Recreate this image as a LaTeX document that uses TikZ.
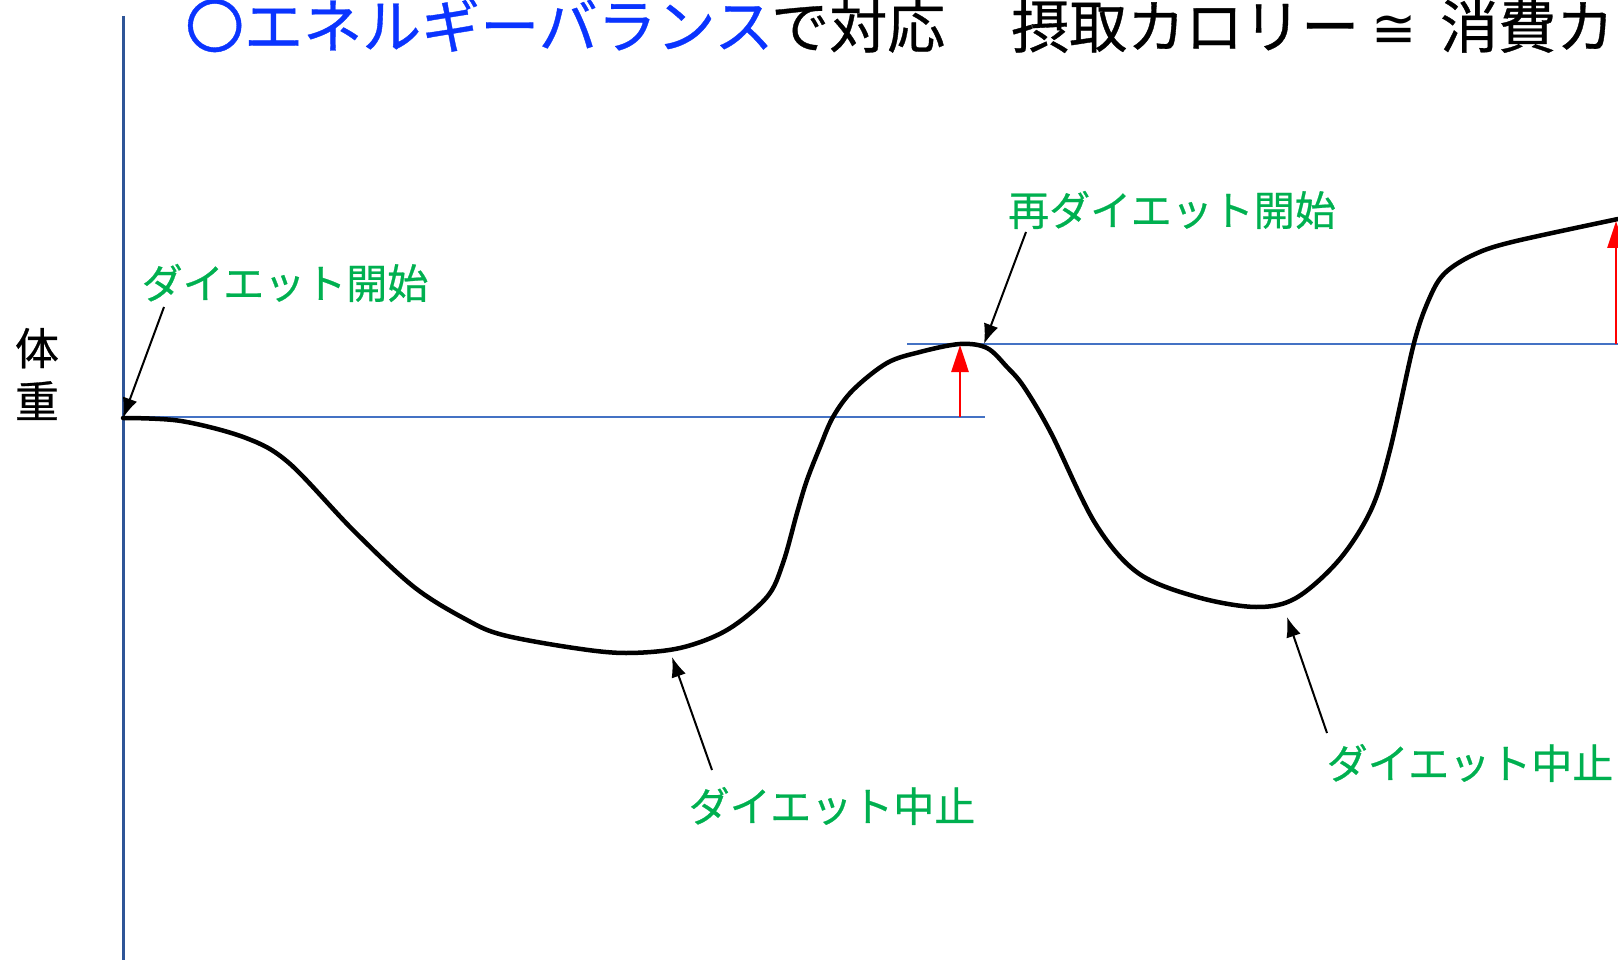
\documentclass[tikz,border=0pt]{standalone}
\usepackage{fontspec}
\setmainfont{Noto Sans CJK JP}[FakeBold=0.6]
\newfontfamily\symfont{DejaVu Sans}
\usetikzlibrary{arrows.meta}
\definecolor{ttlblue}{HTML}{0A34FF}
\definecolor{lblgreen}{HTML}{00B050}
\definecolor{axisblue}{HTML}{2F5597}
\definecolor{lineblue}{HTML}{4472C4}
\tikzset{
  lbl/.style={text=lblgreen, inner sep=0pt, font=\fontsize{41}{48}\selectfont},
  ttl/.style={inner sep=0pt, anchor=base west, font=\fontsize{58}{66}\selectfont},
  pointer/.style={line width=2pt, -{Latex[length=20pt,width=15pt]}},
  gain/.style={red, line width=2.8pt, -{Triangle[length=27pt,width=17pt]}},
  level/.style={lineblue, line width=2.4pt},
  weight/.style={line width=4.5pt, line join=round, line cap=round}
}
\begin{document}
\begin{tikzpicture}[x=1pt,y=-1pt]
\useasboundingbox (0,0) rectangle (1618,960);
% title
\node[ttl, text=ttlblue, font=\fontsize{59}{66}\selectfont] (t1) at (185,48) {〇エネルギーバランス};
\node[ttl] (t2) at (771,48) {で対応};
\node[ttl] (t3) at (1011,48) {摂取カロリー};
\node[inner sep=0pt, font=\symfont\fontsize{54}{60}\selectfont] (t4) at (1394,31) {≅};
\node[ttl] (t5) at (1440,48) {消費カ};
% axis
\coordinate (axtop) at (123,16);
\coordinate (axbot) at (123,960);
\draw[axisblue, line width=3pt] (axtop) -- (axbot);
\node[inner sep=0pt, font=\fontsize{44}{53}\selectfont, align=center] (ylab) at (37,374) {体\\重};
% levels
\coordinate (l1a) at (123,417);
\coordinate (l1b) at (985,417);
\coordinate (l2a) at (907,344);
\coordinate (l2b) at (1618,344);
\draw[level] (l1a) -- (l1b);
\draw[level] (l2a) -- (l2b);
% weight curve
\draw[weight] plot[smooth, tension=0.55] coordinates {
 (123,418) (181,421) (246,438) (289,463) (353,530) (414,587) (467,620)
 (503,635) (574,648) (626,653) (680,648) (727,630) (767,597) (783,563)
 (797,513) (807,480) (820,447) (833,417) (853,390) (887,363) (920,352)
 (960,344) (987,348) (1007,367) (1024,387) (1051,433) (1095,523)
 (1138,573) (1197,597) (1256,607) (1296,598) (1339,560) (1371,510)
 (1390,450) (1414,343) (1430,297) (1445,273) (1473,255) (1512,242) (1618,219)};
% red gain arrows
\coordinate (g1a) at (960,417);
\coordinate (g1b) at (960,345);
\coordinate (g2a) at (1616,344);
\coordinate (g2b) at (1616,221);
\draw[gain] (g1a) -- (g1b);
\draw[gain] (g2a) -- (g2b);
% labels
\node[lbl] (s1) at (285,283) {ダイエット開始};
\node[lbl] (s2) at (1172,210) {再ダイエット開始};
\node[lbl] (e1) at (832,806) {ダイエット中止};
\node[lbl] (e2) at (1470,763) {ダイエット中止};
% pointers
\coordinate (p1a) at (164,307);
\coordinate (p1b) at (123,418);
\coordinate (p2a) at (1026,232);
\coordinate (p2b) at (984,344);
\coordinate (p3a) at (712,770);
\coordinate (p3b) at (672,657);
\coordinate (p4a) at (1327,733);
\coordinate (p4b) at (1287,617);
\draw[pointer] (p1a) -- (p1b);
\draw[pointer] (p2a) -- (p2b);
\draw[pointer] (p3a) -- (p3b);
\draw[pointer] (p4a) -- (p4b);
\end{tikzpicture}
\end{document}
